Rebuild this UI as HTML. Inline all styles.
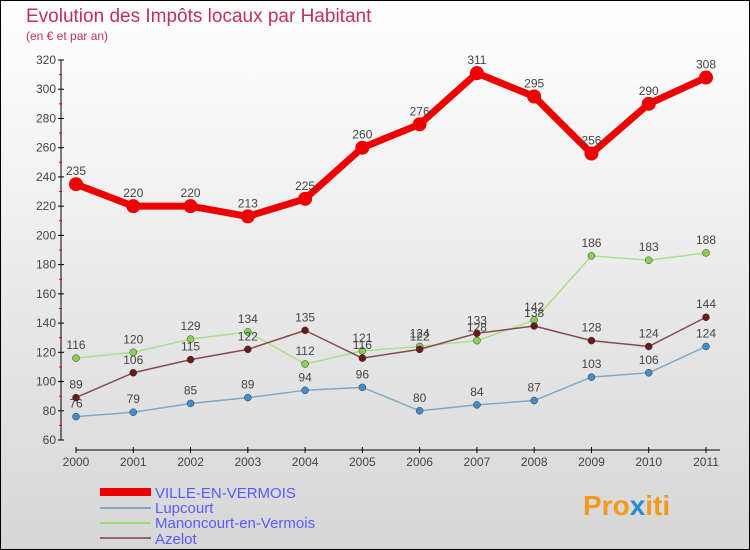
<!DOCTYPE html>
<html><head><meta charset="utf-8"><style>
body{margin:0;}
svg{display:block;font-family:"Liberation Sans",sans-serif;}
</style></head><body>
<svg id="c" width="750" height="550" viewBox="0 0 750 550" xmlns="http://www.w3.org/2000/svg">
<defs><linearGradient id="bg" x1="0" y1="0" x2="0" y2="1"><stop offset="0" stop-color="#ffffff"/><stop offset="1" stop-color="#d6d6d6"/></linearGradient></defs>
<rect x="0.5" y="0.5" width="749" height="549" fill="url(#bg)" stroke="#000"/>
<text x="26" y="22" font-size="19" fill="#c0305a">Evolution des Impôts locaux par Habitant</text>
<text x="26" y="40" font-size="12" fill="#c0305a">(en € et par an)</text>
<g id="axes"></g><g id="series"></g>
<g>
<rect x="100" y="488" width="51" height="8" fill="#e00"/>
<text x="155" y="498" font-size="15" fill="#5a5aff">VILLE-EN-VERMOIS</text>
<rect x="100" y="507" width="51" height="2" fill="#7fa9c8"/>
<text x="155" y="513" font-size="15" fill="#5a5aff">Lupcourt</text>
<rect x="100" y="522" width="51" height="2" fill="#99dd77"/>
<text x="155" y="528" font-size="15" fill="#5a5aff">Manoncourt-en-Vermois</text>
<rect x="100" y="537" width="51" height="2" fill="#996666"/>
<text x="155" y="544" font-size="15" fill="#5a5aff">Azelot</text>
</g>
<text x="583" y="515" font-size="28" font-weight="bold" fill="#f39a1e">Pro<tspan fill="#2a8ad8">x</tspan>iti</text>
</svg>
<script>
const years=[2000,2001,2002,2003,2004,2005,2006,2007,2008,2009,2010,2011];
const ville=[235,220,220,213,225,260,276,311,295,256,290,308];
const lupcourt=[76,79,85,89,94,96,80,84,87,103,106,124];
const manoncourt=[116,120,129,134,112,121,124,128,142,186,183,188];
const azelot=[89,106,115,122,135,116,122,133,138,128,124,144];
const yTicks=[60,80,100,120,140,160,180,200,220,240,260,280,300,320];
const NS="http://www.w3.org/2000/svg";
const X=i=>76+i*(630/11);
const Y=v=>440-(v-60)*(380/260);
function mk(t,a,p){const e=document.createElementNS(NS,t);for(const k in a)e.setAttribute(k,a[k]);p.appendChild(e);return e;}
const ax=document.getElementById('axes');
let e=mk('line',{x1:61,y1:60,x2:61,y2:440,stroke:'#000'},ax);


e=mk('line',{x1:76,y1:450,x2:720,y2:450,stroke:'#000'},ax);


yTicks.forEach(v=>{
 mk('line',{x1:58,y1:Y(v),x2:64,y2:Y(v),stroke:'#000'},ax);
 if(v<320) mk('line',{x1:59,y1:Y(v+10),x2:62,y2:Y(v+10),stroke:'#e00'},ax);
 const t=mk('text',{x:56,y:Y(v)+4,'font-size':12,fill:'#444','text-anchor':'end'},ax);t.textContent=v;
 
 
});
years.forEach((y,i)=>{
 mk('line',{x1:X(i),y1:447,x2:X(i),y2:453,stroke:'#000'},ax);
 const t=mk('text',{x:X(i),y:466,'font-size':12,fill:'#444','text-anchor':'middle'},ax);t.textContent=y;
 
 
});
const sg=document.getElementById('series');
function series(vals,color,w,r,dot,name){
 const g=mk('g',{},sg);
 
 
 const p=mk('polyline',{points:vals.map((v,i)=>X(i)+','+Y(v)).join(' '),fill:'none',stroke:color,'stroke-width':w,'stroke-linejoin':'round'},g);
 
 
 vals.forEach((v,i)=>{
  const c=mk('circle',{cx:X(i),cy:Y(v),r:r,fill:dot,stroke:'#333','stroke-width':r>5?0:0.5},g);
  
  
  const t=mk('text',{x:X(i),y:Y(v)-9,'font-size':12,fill:'#444','text-anchor':'middle'},g);t.textContent=v;
  
  
 });
}
series(lupcourt,'#7fa9c8',1.5,3.5,'#3f8fd0','lupcourt');
series(manoncourt,'#a8e08a',1.5,3.5,'#88d050','manoncourt');
series(azelot,'#8a4a4a',1.5,3.5,'#6a1a1a','azelot');
series(ville,'#ee0000',7,7,'#ee0000','ville');
</script>
</body></html>
